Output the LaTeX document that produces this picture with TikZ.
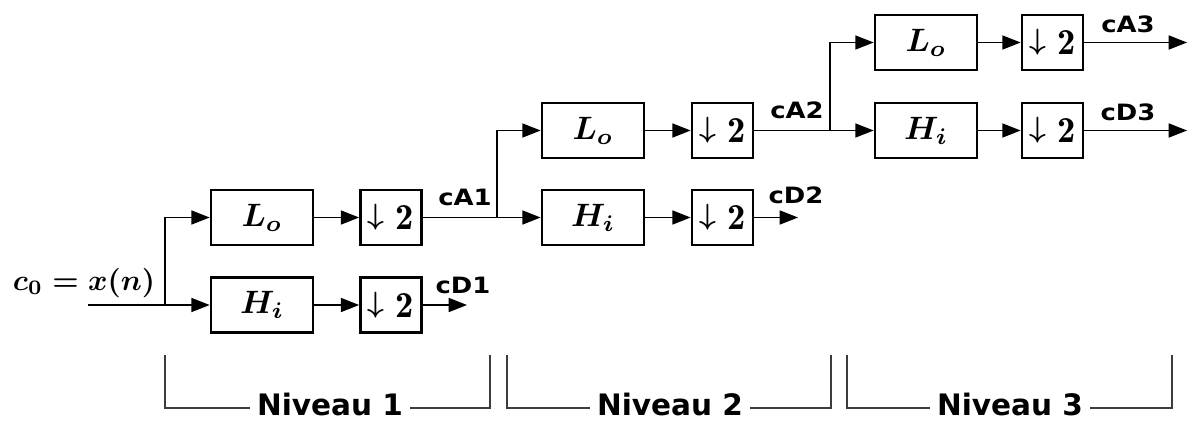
\documentclass[tikz,border=0pt]{standalone}
\usepackage{amsmath,amssymb}
\usepackage{graphicx}
\usepackage{fontspec}
\usepackage{tikz}
\usetikzlibrary{arrows.meta,positioning}
\newfontfamily\sigfont[FakeStretch=1.15]{DejaVu Sans}
\newfontfamily\lvlfont{DejaVu Sans}
\definecolor{bracketgray}{RGB}{60,60,60}
\newcommand{\boxmath}[1]{\scalebox{2.3}{$\boldsymbol{#1}$}}
\newcommand{\dnsym}{\raisebox{3.6pt}{\scalebox{2.08}{$\boldsymbol{\downarrow}$}}\hspace{8pt}\scalebox{2.6}{$\mathbf{2}$}}

\begin{document}
\begin{tikzpicture}[
  x=0.025cm, y=-0.025cm,
  filt/.style={draw, line width=1.9pt, minimum width=2.55cm, minimum height=1.375cm, inner sep=0pt},
  dsamp/.style={draw, line width=1.9pt, minimum width=1.525cm, minimum height=1.375cm, inner sep=0pt},
  sig/.style={font=\sigfont\bfseries\fontsize{16}{19}\selectfont, anchor=base, inner sep=0pt},
  lvl/.style={font=\lvlfont\bfseries\fontsize{21}{25}\selectfont, anchor=base, fill=white, inner xsep=5pt, inner ysep=0pt},
  arr/.style={-{Triangle[length=13pt, width=10pt]}, line width=0.9pt},
  wire/.style={line width=0.9pt},
  brk/.style={draw=bracketgray, line width=0.9pt}
]
\useasboundingbox (0,0) rectangle (1190,421);
\node (x0) at (84,283) {\scalebox{2.1}{$\boldsymbol{c_0 = x(n)}$}};
\node[filt] (lo1) at (262,217.5) {\boxmath{L_o}};
\node[filt] (hi1) at (262,305) {\boxmath{H_i}};
\node[dsamp] (dA1) at (391,217.5) {\dnsym};
\node[dsamp] (dD1) at (391,305) {\dnsym};
\node[filt] (lo2) at (593,130.5) {\boxmath{L_o}};
\node[filt] (hi2) at (593,217.5) {\boxmath{H_i}};
\node[dsamp] (dA2) at (722.5,130.5) {\dnsym};
\node[dsamp] (dD2) at (722.5,217.5) {\dnsym};
\node[filt] (lo3) at (926,42.5) {\boxmath{L_o}};
\node[filt] (hi3) at (926,130.5) {\boxmath{H_i}};
\node[dsamp] (dA3) at (1052.5,42.5) {\dnsym};
\node[dsamp] (dD3) at (1052.5,130.5) {\dnsym};
\coordinate (in) at (88,305);
\coordinate (s1) at (165,305);
\coordinate (s2) at (497,217.5);
\coordinate (s3) at (830,130.5);
\coordinate (eD1) at (467,305);
\coordinate (eD2) at (798,217.5);
\coordinate (eA3) at (1187,42.5);
\coordinate (eD3) at (1187,130.5);
\draw[wire] (in) -- (s1);
\draw[arr] (s1) |- (lo1.west);
\draw[arr] (s1) -- (hi1.west);
\draw[arr] (lo1) -- (dA1);
\draw[arr] (hi1) -- (dD1);
\draw[arr] (dD1) -- (eD1);
\draw[wire] (dA1) -- (s2);
\draw[arr] (s2) |- (lo2.west);
\draw[arr] (s2) -- (hi2.west);
\draw[arr] (lo2) -- (dA2);
\draw[arr] (hi2) -- (dD2);
\draw[arr] (dD2) -- (eD2);
\draw[wire] (dA2) -- (s3);
\draw[arr] (s3) |- (lo3.west);
\draw[arr] (s3) -- (hi3.west);
\draw[arr] (lo3) -- (dA3);
\draw[arr] (hi3) -- (dD3);
\draw[arr] (dA3) -- (eA3);
\draw[arr] (dD3) -- (eD3);
\node[sig] (cD1) at (463,293) {cD1};
\node[sig] (cA1) at (465,205) {cA1};
\node[sig] (cD2) at (796,203) {cD2};
\node[sig] (cA2) at (797,118) {cA2};
\node[sig] (cD3) at (1128,120) {cD3};
\node[sig] (cA3) at (1128,32) {cA3};
\coordinate (b1a) at (165,355);
\coordinate (b1b) at (490,355);
\coordinate (b2a) at (507,355);
\coordinate (b2b) at (831,355);
\coordinate (b3a) at (847,355);
\coordinate (b3b) at (1172,355);
\draw[brk] (b1a) -- ++(0,53) -| (b1b);
\draw[brk] (b2a) -- ++(0,53) -| (b2b);
\draw[brk] (b3a) -- ++(0,53) -| (b3b);
\node[lvl] (lv1) at (330,415) {Niveau 1};
\node[lvl] (lv2) at (670,415) {Niveau 2};
\node[lvl] (lv3) at (1010,415) {Niveau 3};
\end{tikzpicture}
\end{document}
